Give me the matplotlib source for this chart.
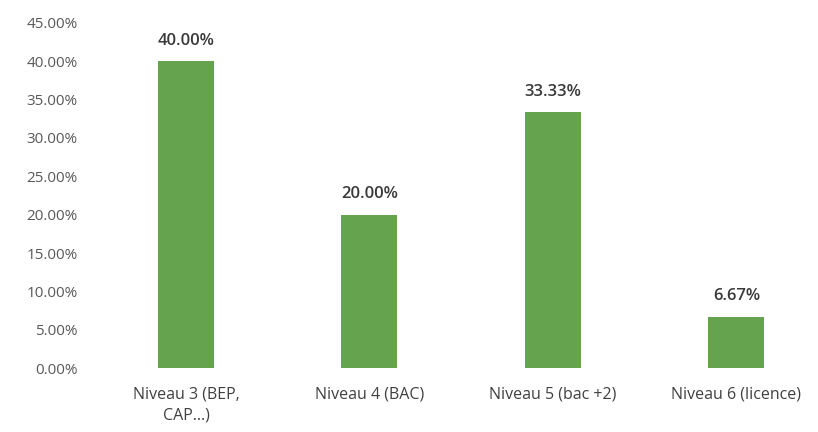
import matplotlib.pyplot as plt
from matplotlib.ticker import FuncFormatter

categories = ["Niveau 3 (BEP,\nCAP...)", "Niveau 4 (BAC)", "Niveau 5 (bac +2)", "Niveau 6 (licence)"]
values = [0.40, 0.20, 0.3333, 0.0667]
labels = ["40.00%", "20.00%", "33.33%", "6.67%"]

plt.rcParams['font.family'] = ['Open Sans', 'DejaVu Sans']

fig = plt.figure(figsize=(8.18, 4.32), dpi=100)
ax = fig.add_axes([0.1152, 0.148, 0.886, 0.799])

x = range(len(categories))
bars = ax.bar(x, values, width=0.305, color="#65a34f")

for b, lab in zip(bars, labels):
    ax.annotate(lab, (b.get_x() + b.get_width() / 2, b.get_height()),
                xytext=(0, 9), textcoords="offset points",
                ha="center", va="bottom", fontsize=12, color="#3a3a3a",
                fontweight="semibold")

ax.set_xlim(-0.5, 3.45)
ax.set_ylim(0, 0.45)
ax.set_yticks([i * 0.05 for i in range(10)])
ax.yaxis.set_major_formatter(FuncFormatter(lambda v, p: "%.2f%%" % (v * 100)))
ax.set_xticks(list(x))
ax.set_xticklabels(categories, fontsize=11.5, color="#404040", linespacing=1.45)
ax.tick_params(axis="y", labelsize=11, labelcolor="#595959", length=0, pad=12)
ax.tick_params(axis="x", length=0, pad=13)
for s in ax.spines.values():
    s.set_visible(False)

fig.savefig("out.png", dpi=100)
